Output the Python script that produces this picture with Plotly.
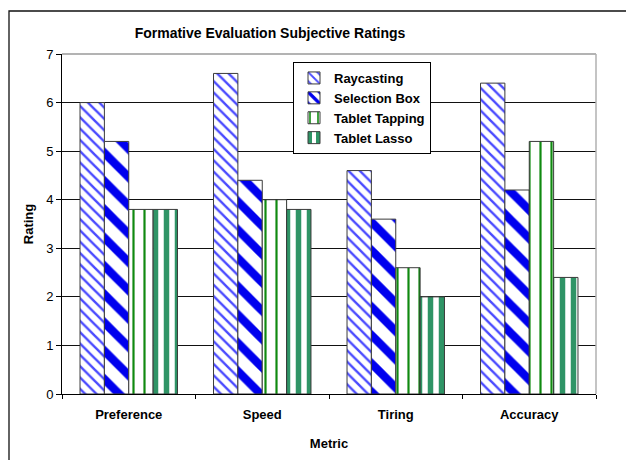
import plotly.graph_objects as go

# Survey data: mean subjective ratings per selection technique
metrics = ["Preference", "Speed", "Tiring", "Accuracy"]
raycasting = [6.0, 6.6, 4.6, 6.4]
selection_box = [5.2, 4.4, 3.6, 4.2]
tablet_tapping = [3.8, 4.0, 2.6, 5.2]
tablet_lasso = [3.8, 3.8, 2.0, 2.4]
y_ticks = [0, 1, 2, 3, 4, 5, 6, 7]

W, H = 626, 460
L, R, T, B = 62, 30, 54, 66
plot_w = W - L - R
plot_h = H - T - B

FONT = "Liberation Sans, Arial, sans-serif"

series = [
    ("Raycasting", raycasting,
     dict(shape="\\", fgcolor="#4a4aff", bgcolor="white", size=8, solidity=0.3, fgopacity=1)),
    ("Selection Box", selection_box,
     dict(shape="\\", fgcolor="#0000ee", bgcolor="white", size=20, solidity=0.42, fgopacity=1)),
    ("Tablet Tapping", tablet_tapping,
     dict(shape="|", fgcolor="#108a10", bgcolor="white", size=11, solidity=0.2, fgopacity=1)),
    ("Tablet Lasso", tablet_lasso,
     dict(shape="|", fgcolor="#2f9466", bgcolor="white", size=11, solidity=0.5, fgopacity=1)),
]

fig = go.Figure()
for name, vals, pat in series:
    fig.add_trace(go.Bar(
        name=name, x=metrics, y=vals,
        marker=dict(color="white", pattern=pat,
                    line=dict(color="#3a3a3a", width=1)),
    ))


def px_x(p):
    return (p - L) / plot_w


def px_y(p):
    return (H - B - p) / plot_h


shapes = [
    # outer chart frame
    dict(type="rect", xref="paper", yref="paper",
         x0=px_x(9), y0=px_y(475), x1=px_x(640), y1=px_y(11),
         line=dict(color="#111111", width=1.3), fillcolor="rgba(0,0,0,0)", layer="above"),
    # plot area frame (top and right edges)
    dict(type="line", xref="paper", yref="paper", x0=0, y0=1, x1=1, y1=1,
         line=dict(color="#9a9a9a", width=1.5), layer="above"),
    dict(type="line", xref="paper", yref="paper", x0=1, y0=0, x1=1, y1=1,
         line=dict(color="#b0b0b0", width=1.5), layer="above"),
]

fig.update_layout(
    width=W, height=H,
    margin=dict(l=L, r=R, t=T, b=B, autoexpand=False),
    paper_bgcolor="white", plot_bgcolor="white",
    barmode="group", bargap=0.27, bargroupgap=0.0,
    font=dict(family=FONT, size=12, color="black"),
    title=dict(text="Formative Evaluation Subjective Ratings",
               x=270 / W, xanchor="center",
               y=1 - 33 / H, yanchor="middle",
               font=dict(family=FONT, size=14, weight="bold", color="black")),
    showlegend=True,
    legend=dict(x=px_x(293), y=px_y(62), xanchor="left", yanchor="top",
                bgcolor="white", bordercolor="black", borderwidth=1,
                font=dict(family=FONT, size=13, weight="bold", color="black"),
                itemwidth=30, tracegroupgap=0),
    xaxis=dict(
        type="category", automargin=False,
        showline=True, linecolor="black", linewidth=1,
        ticks="outside", ticklen=4, tickcolor="black", tickson="boundaries",
        ticklabelstandoff=8,
        tickfont=dict(family=FONT, size=13, weight="bold"),
        title=dict(text="Metric", standoff=18,
                   font=dict(family=FONT, size=13, weight="bold")),
        showgrid=False,
    ),
    yaxis=dict(
        range=[0, 7], tickvals=y_ticks, ticktext=[str(v) for v in y_ticks],
        automargin=False,
        showline=True, linecolor="black", linewidth=1,
        ticks="outside", ticklen=5, tickcolor="black",
        showgrid=True, gridcolor="#111111", gridwidth=1,
        zeroline=False,
        tickfont=dict(family=FONT, size=13),
        title=dict(text="Rating", standoff=9,
                   font=dict(family=FONT, size=13, weight="bold")),
    ),
    shapes=shapes,
)

fig.write_html("out.html")
